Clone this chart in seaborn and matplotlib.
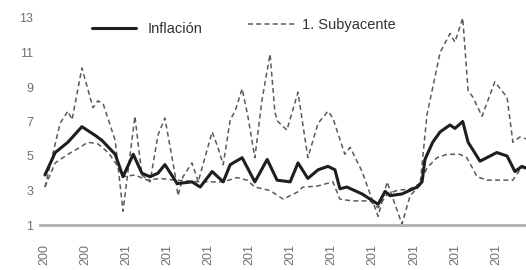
import matplotlib
matplotlib.use("Agg")
import matplotlib.pyplot as plt
import seaborn as sns
import pandas as pd

sns.set_style("white")
plt.rcParams['font.family'] = ['Liberation Sans', 'DejaVu Sans']

# Inflación (solid)
infl_t = [2008.02, 2008.27, 2008.58, 2008.92, 2009.24, 2009.41, 2009.73, 2009.92, 2010.17, 2010.38,
          2010.58, 2010.77, 2010.94, 2011.24, 2011.60, 2011.80, 2012.09, 2012.36, 2012.53, 2012.82,
          2013.13, 2013.43, 2013.67, 2013.99, 2014.18, 2014.42, 2014.67, 2014.91, 2015.08, 2015.20,
          2015.37, 2015.74, 2016.13, 2016.30, 2016.42, 2016.71, 2017.08, 2017.20, 2017.27, 2017.46,
          2017.64, 2017.88, 2018.00, 2018.19, 2018.32, 2018.61, 2019.02, 2019.27, 2019.46, 2019.63, 2019.73]
infl_v = [3.9, 5.2, 5.8, 6.7, 6.2, 5.9, 5.1, 3.8, 5.1, 4.0,
          3.8, 4.0, 4.5, 3.4, 3.5, 3.2, 4.1, 3.5, 4.5, 4.9,
          3.5, 4.8, 3.6, 3.5, 4.6, 3.7, 4.2, 4.4, 4.2, 3.1,
          3.2, 2.8, 2.2, 2.95, 2.7, 2.8, 3.2, 3.5, 4.8, 5.8,
          6.4, 6.8, 6.6, 7.0, 5.8, 4.7, 5.2, 5.0, 4.1, 4.4, 4.3]

# 1. Subyacente (dashed, volatile)
sub1_t = [2008.02, 2008.39, 2008.58, 2008.68, 2008.92, 2009.19, 2009.31, 2009.44, 2009.73, 2009.92,
          2010.21, 2010.38, 2010.58, 2010.77, 2010.94, 2011.19, 2011.26, 2011.38, 2011.60, 2011.75,
          2012.09, 2012.23, 2012.36, 2012.53, 2012.65, 2012.82, 2012.96, 2013.13, 2013.30, 2013.50,
          2013.62, 2013.69, 2013.91, 2014.18, 2014.42, 2014.67, 2014.91, 2015.03, 2015.32, 2015.45,
          2015.74, 2016.13, 2016.35, 2016.71, 2016.91, 2017.15, 2017.32, 2017.64, 2017.88, 2018.00,
          2018.19, 2018.32, 2018.44, 2018.66, 2018.97, 2019.27, 2019.41, 2019.58, 2019.73]
sub1_v = [3.2, 6.9, 7.6, 7.1, 10.1, 7.8, 8.2, 8.0, 5.9, 1.8,
          7.3, 3.9, 3.5, 6.2, 7.2, 3.9, 2.7, 3.8, 4.6, 3.5,
          6.4, 5.5, 4.5, 7.1, 7.6, 8.9, 7.3, 4.9, 8.2, 10.9,
          7.5, 7.0, 6.5, 8.7, 4.9, 6.9, 7.6, 7.2, 5.1, 5.5,
          4.1, 1.5, 3.5, 1.05, 2.7, 3.3, 7.4, 11.0, 12.1, 11.6,
          13.0, 8.8, 8.4, 7.3, 9.3, 8.4, 5.8, 6.1, 6.0]

# Second core measure (dashed, smoother)
sub2_t = [2008.02, 2008.27, 2008.58, 2008.80, 2009.07, 2009.31, 2009.56, 2009.80, 2009.92, 2010.21,
          2010.51, 2010.82, 2011.19, 2011.80, 2012.36, 2012.70, 2012.94, 2013.13, 2013.50, 2013.82,
          2014.16, 2014.30, 2014.64, 2015.03, 2015.20, 2015.49, 2015.93, 2016.13, 2016.35, 2016.59,
          2016.91, 2017.15, 2017.32, 2017.56, 2017.81, 2018.12, 2018.29, 2018.54, 2018.78, 2019.09,
          2019.41, 2019.58, 2019.73]
sub2_v = [3.2, 4.6, 5.1, 5.4, 5.8, 5.7, 5.2, 4.4, 3.8, 3.9,
          3.6, 3.7, 3.6, 3.5, 3.5, 3.75, 3.6, 3.2, 3.0, 2.5,
          2.9, 3.2, 3.25, 3.5, 2.5, 2.4, 2.4, 2.0, 2.8, 3.0,
          3.1, 3.4, 4.3, 4.9, 5.1, 5.1, 4.9, 3.8, 3.6, 3.6,
          3.6, 4.2, 4.4]

tick_years = list(range(2008, 2020))
tick_labels = ["200", "200"] + ["201"] * 10
y_ticks = [1, 3, 5, 7, 9, 11, 13]

fig = plt.figure(figsize=(5.26, 2.70), dpi=100)
ax = fig.add_axes([40 / 526, 45 / 270, 486 / 526, 207 / 270])

dash = (0, (3.2, 2.2))
sns.lineplot(x=sub2_t, y=sub2_v, ax=ax, color="#5a5a5a", lw=1.1, linestyle=dash, label="_nolegend_")
sns.lineplot(x=sub1_t, y=sub1_v, ax=ax, color="#5a5a5a", lw=1.1, linestyle=dash, label="1. Subyacente")
sns.lineplot(x=infl_t, y=infl_v, ax=ax, color="#1e1e1e", lw=2.2, label="Inflación")

ax.set_xlim(2007.90, 2019.73)
ax.set_ylim(1, 13)
ax.set_yticks(y_ticks)
ax.set_yticklabels([str(v) for v in y_ticks])
ax.set_xticks(tick_years)
ax.set_xticklabels(tick_labels, rotation=90)
ax.tick_params(axis='both', length=0, labelsize=9, colors="#707070")
ax.tick_params(axis='y', pad=5)
ax.tick_params(axis='x', pad=14)
for s in ["top", "right", "left"]:
    ax.spines[s].set_visible(False)
ax.spines["bottom"].set_color("#b0b0b0")
ax.spines["bottom"].set_linewidth(2)
ax.set_xlabel("")
ax.set_ylabel("")

handles, labels = ax.get_legend_handles_labels()
h_inf = handles[labels.index("Inflación")]
h_sub = handles[labels.index("1. Subyacente")]
leg1 = ax.legend([h_inf], ["Inflación"], frameon=False, loc="center left",
                 bbox_to_anchor=(0.107, 0.947), fontsize=10.5, handlelength=3.0,
                 handletextpad=0.8, borderpad=0, borderaxespad=0, labelcolor="#333333")
ax.add_artist(leg1)
ax.legend([h_sub], ["1. Subyacente"], frameon=False, loc="center left",
          bbox_to_anchor=(0.428, 0.966), fontsize=10.5, handlelength=3.2,
          handletextpad=0.5, borderpad=0, borderaxespad=0, labelcolor="#333333")

fig.savefig("out.png", dpi=100)
